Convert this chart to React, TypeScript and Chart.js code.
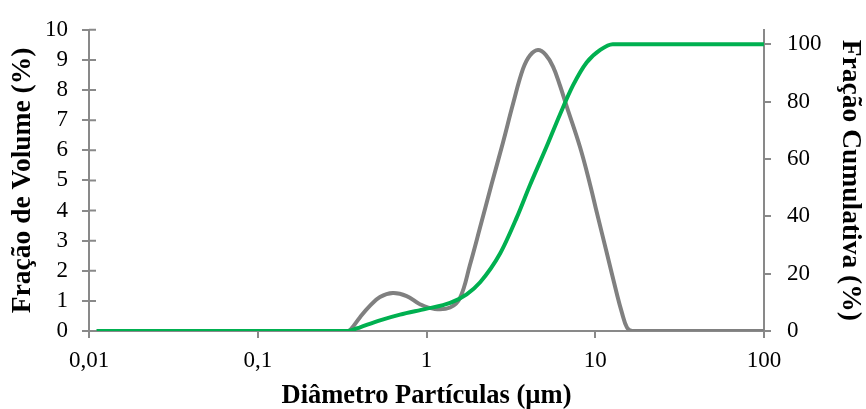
import React, { useEffect, useRef } from 'react';
import { Chart, registerables } from 'chart.js';

Chart.register(...registerables);

const volumeDiameters = [0.0111, 0.1, 0.3, 0.343, 0.36, 0.404, 0.463, 0.53, 0.632, 0.763, 0.914, 1.12, 1.38, 1.58, 1.81, 2.08, 2.43, 2.84, 3.26, 3.73, 4.1, 4.58, 5.09, 5.62, 6.18, 6.78, 8.13, 9.33, 10.2, 11.7, 13.4, 14.4, 15.4, 16.5, 20, 100];
const volumeValues = [0, 0, 0, 0, 0.09, 0.46, 0.84, 1.13, 1.26, 1.16, 0.89, 0.73, 0.78, 1.1, 2.2, 3.45, 4.87, 6.26, 7.55, 8.7, 9.15, 9.33, 9.17, 8.78, 8.15, 7.45, 6.1, 4.85, 3.95, 2.6, 1.25, 0.6, 0.12, 0, 0, 0];

const cumulativeDiameters = [0.0111, 0.343, 0.36, 0.404, 0.53, 0.697, 0.99, 1.38, 1.73, 2.08, 2.73, 3.43, 4.1, 5.15, 6.18, 7.38, 8.89, 10.7, 12.7, 20, 100];
const cumulativeValues = [0, 0, 0.3, 1.3, 3.7, 5.7, 7.7, 9.8, 12.8, 17, 27, 39.6, 50.8, 64.3, 75.5, 85.6, 93.6, 98, 100, 100, 100];

const xTickValues = [0.01, 0.1, 1, 10, 100];
const leftTickValues = [0, 1, 2, 3, 4, 5, 6, 7, 8, 9, 10];
const rightTickValues = [0, 20, 40, 60, 80, 100];

const FONT = "'Liberation Serif', 'Times New Roman', serif";
const AXIS = '#898989';

export default function App() {
  const ref = useRef<HTMLCanvasElement>(null);

  useEffect(() => {
    document.body.style.margin = '0';
    const canvas = ref.current;
    if (!canvas) return;

    const crossTicks = {
      id: 'crossTicks',
      beforeDatasetsDraw(chart: any) {
        const { ctx, chartArea, scales } = chart;
        const y = scales.y;
        ctx.save();
        ctx.strokeStyle = AXIS;
        ctx.lineWidth = 2;
        ctx.beginPath();
        leftTickValues.forEach((v) => {
          const py = y.getPixelForValue(v);
          ctx.moveTo(chartArea.left, py);
          ctx.lineTo(chartArea.left + 7, py);
        });
        ctx.stroke();
        ctx.restore();
      },
    };

    const tickFont = { family: FONT, size: 23 };

    const chart = new Chart(canvas, {
      type: 'line',
      data: {
        datasets: [
          {
            label: 'Fração Cumulativa',
            data: cumulativeDiameters.map((d, i) => ({ x: d, y: cumulativeValues[i] })),
            borderColor: '#00b050',
            borderWidth: 4,
            pointRadius: 0,
            cubicInterpolationMode: 'monotone',
            yAxisID: 'y2',
            order: 0,
          },
          {
            label: 'Fração de Volume',
            data: volumeDiameters.map((d, i) => ({ x: d, y: volumeValues[i] })),
            borderColor: '#808080',
            borderWidth: 4,
            pointRadius: 0,
            tension: 0.4,
            yAxisID: 'y',
            order: 1,
          },
        ],
      },
      options: {
        responsive: false,
        animation: false,
        layout: { padding: { top: 20, left: 0, right: 0, bottom: 0 } },
        plugins: { legend: { display: false }, tooltip: { enabled: false } },
        scales: {
          x: {
            type: 'logarithmic',
            position: 'bottom',
            min: 0.01,
            max: 100,
            afterBuildTicks: (s: any) => {
              s.ticks = xTickValues.map((v) => ({ value: v }));
            },
            afterFit: (s: any) => {
              s.height = 78;
            },
            ticks: {
              autoSkip: false,
              maxRotation: 0,
              color: '#000',
              font: tickFont,
              padding: 9,
              callback: (v: any) => String(v).replace('.', ','),
            },
            grid: { drawOnChartArea: false, tickLength: 7, color: AXIS, lineWidth: 2 },
            border: { color: AXIS, width: 2 },
            title: {
              display: true,
              text: 'Diâmetro Partículas (µm)',
              color: '#000',
              font: { family: FONT, size: 26.5, weight: 'bold', lineHeight: 1 },
              padding: { top: 0, bottom: 0 },
            },
          },
          y: {
            type: 'linear',
            position: 'left',
            min: 0,
            max: 10,
            afterBuildTicks: (s: any) => {
              s.ticks = leftTickValues.map((v) => ({ value: v }));
            },
            afterFit: (s: any) => {
              s.width = 89;
            },
            ticks: { color: '#000', font: tickFont, padding: 14, autoSkip: false },
            grid: { drawOnChartArea: false, tickLength: 7, color: AXIS, lineWidth: 2 },
            border: { color: AXIS, width: 2 },
            title: {
              display: true,
              text: 'Fração de Volume (%)',
              color: '#000',
              font: { family: FONT, size: 27.5, weight: 'bold', lineHeight: 1 },
              padding: { top: 9.5, bottom: 0 },
            },
          },
          y2: {
            type: 'linear',
            position: 'right',
            min: 0,
            max: 105,
            afterBuildTicks: (s: any) => {
              s.ticks = rightTickValues.map((v) => ({ value: v }));
            },
            afterFit: (s: any) => {
              s.width = 102;
            },
            ticks: { color: '#000', font: tickFont, padding: 16, autoSkip: false },
            grid: { drawOnChartArea: false, tickLength: 7, color: AXIS, lineWidth: 2 },
            border: { color: AXIS, width: 2 },
            title: {
              display: true,
              text: 'Fração Cumulativa (%)',
              color: '#000',
              font: { family: FONT, size: 27.5, weight: 'bold', lineHeight: 1 },
              padding: { top: 2.5, bottom: 0 },
            },
          },
        },
      },
      plugins: [crossTicks],
    } as any);

    return () => chart.destroy();
  }, []);

  return <canvas ref={ref} width={866} height={409} style={{ display: 'block' }} />;
}
